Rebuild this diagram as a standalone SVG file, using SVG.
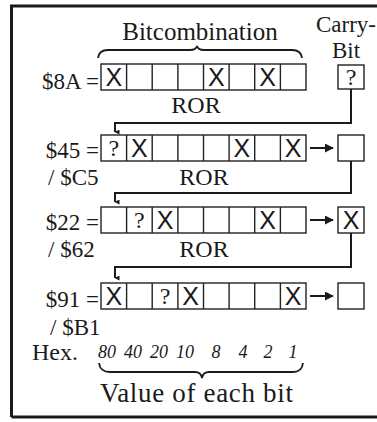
<svg xmlns="http://www.w3.org/2000/svg" width="377" height="422" viewBox="0 0 377 422">
<defs>
<style>
.t{font-family:"Liberation Serif","Times New Roman",serif;fill:#1a1a1a}
.lab{font-size:23px;text-anchor:end}
.ror{font-size:24px;text-anchor:middle}
.x{font-family:"Liberation Sans",Arial,sans-serif;font-size:25px;text-anchor:middle;fill:#1a1a1a}
.q{font-family:"Liberation Serif",serif;font-size:24px;text-anchor:middle;fill:#1a1a1a}
.cell{fill:none;stroke:#222;stroke-width:1.4}
.conn{fill:none;stroke:#1a1a1a;stroke-width:2}
.num{font-family:"Liberation Serif",serif;font-style:italic;font-size:18px;text-anchor:middle;fill:#1a1a1a}
.brace{fill:none;stroke:#1a1a1a;stroke-width:1.8}
</style>
<marker id="ad" viewBox="0 0 10 10" refX="5" refY="9" markerWidth="5" markerHeight="5" orient="auto-start-reverse" markerUnits="userSpaceOnUse">
<path d="M0,0 L10,0 L5,10 Z" fill="#1a1a1a"/>
</marker>
<marker id="ar" viewBox="0 0 10 10" refX="9" refY="5" markerWidth="9" markerHeight="9" orient="auto" markerUnits="userSpaceOnUse">
<path d="M0,0 L10,5 L0,10 Z" fill="#1a1a1a"/>
</marker>
<g id="cells8">
<rect class="cell" x="0" y="0" width="205" height="26"/>
<path class="cell" d="M25.6,0V26M51.2,0V26M76.9,0V26M102.5,0V26M128.1,0V26M153.7,0V26M179.4,0V26"/>
</g>
</defs>
<rect width="377" height="422" fill="#fff"/>
<g id="frame">
<path d="M11.5,417 V6 H380 M11.5,417 H380" fill="none" stroke="#1a1a1a" stroke-width="3"/>
</g>
<g id="header">
<text class="t" x="200" y="40" font-size="25" text-anchor="middle">Bitcombination</text>
<path class="brace" d="M98,58 Q99,50 108,50 L190,50 Q196,50 197,46 Q198,50 204,50 L292,50 Q301,50 302,58"/>
<text class="t" x="346" y="32" font-size="23" text-anchor="middle">Carry-</text>
<text class="t" x="346" y="58" font-size="23" text-anchor="middle">Bit</text>
</g>
<g id="row1">
<text class="t lab" x="99" y="89">$8A =</text>
<use href="#cells8" x="101" y="64"/>
<text class="x" x="113.8" y="86">X</text>
<text class="x" x="216.3" y="86">X</text>
<text class="x" x="267.5" y="86">X</text>
<rect class="cell" x="338" y="65" width="26" height="24"/>
<text class="q" x="351" y="85">?</text>
<text class="t ror" x="196" y="113">ROR</text>
</g>
<g id="row2">
<text class="t lab" x="99" y="158">$45 =</text>
<use href="#cells8" x="101" y="135"/>
<text class="q" x="113.8" y="156">?</text>
<text class="x" x="139.4" y="157">X</text>
<text class="x" x="241.9" y="157">X</text>
<text class="x" x="293.1" y="157">X</text>
<rect class="cell" x="338" y="135" width="26" height="26"/>
<text class="t" x="48" y="185" font-size="23">/ $C5</text>
<text class="t ror" x="204" y="185">ROR</text>
</g>
<g id="row3">
<text class="t lab" x="99" y="230">$22 =</text>
<use href="#cells8" x="101" y="207"/>
<text class="q" x="139.4" y="228">?</text>
<text class="x" x="165" y="229">X</text>
<text class="x" x="267.5" y="229">X</text>
<rect class="cell" x="338" y="207" width="26" height="26"/>
<text class="x" x="351" y="229">X</text>
<text class="t" x="48" y="257" font-size="23">/ $62</text>
<text class="t ror" x="204" y="257">ROR</text>
</g>
<g id="row4">
<text class="t lab" x="99" y="307">$91 =</text>
<use href="#cells8" x="101" y="283"/>
<text class="x" x="113.8" y="305">X</text>
<text class="q" x="165" y="304">?</text>
<text class="x" x="190.6" y="305">X</text>
<text class="x" x="293.1" y="305">X</text>
<rect class="cell" x="338" y="283" width="26" height="26"/>
<text class="t" x="50" y="335" font-size="23">/ $B1</text>
</g>
<g id="connectors">
<path class="conn" d="M351,89 V123 H115 V132" marker-end="url(#ad)"/>
<path class="conn" d="M351,161 V193 H115 V202" marker-end="url(#ad)"/>
<path class="conn" d="M351,233 V267 H115 V278" marker-end="url(#ad)"/>
<path class="conn" d="M310,148 H333" stroke-width="2.5" marker-end="url(#ar)"/>
<path class="conn" d="M310,220 H333" stroke-width="2.5" marker-end="url(#ar)"/>
<path class="conn" d="M310,296 H333" stroke-width="2.5" marker-end="url(#ar)"/>
</g>
<g id="bit-values">
<text class="t" x="32" y="360" font-size="24">Hex.</text>
<text class="num" x="107" y="358">80</text>
<text class="num" x="133" y="358">40</text>
<text class="num" x="159" y="358">20</text>
<text class="num" x="185" y="358">10</text>
<text class="num" x="216" y="358">8</text>
<text class="num" x="243" y="358">4</text>
<text class="num" x="268" y="358">2</text>
<text class="num" x="293" y="358">1</text>
<path class="brace" d="M99,363 Q100,372 110,372 L195,372 Q201,372 202,378 Q203,372 209,372 L293,372 Q302,372 303,363"/>
<text class="t" x="100" y="402" font-size="27" textLength="193" lengthAdjust="spacing">Value of each bit</text>
</g>
</svg>
